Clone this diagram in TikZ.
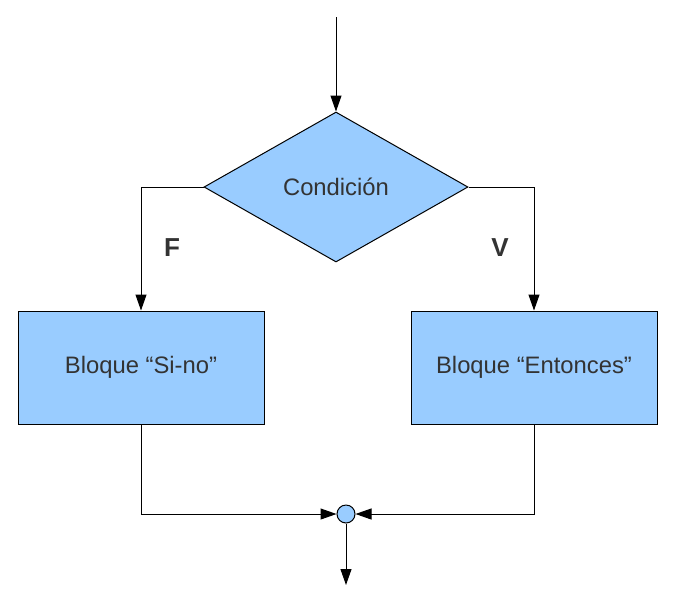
\documentclass[tikz,border=0pt]{standalone}
\usepackage{fontspec}
\setmainfont{Liberation Sans}
\usepackage{tikz}
\usetikzlibrary{shapes.geometric}
\usetikzlibrary{arrows.meta}
\usepackage{xcolor}
\definecolor{cajaazul}{HTML}{99CCFF}
\definecolor{textogris}{HTML}{333333}

\tikzset{
  bloque/.style={draw=black,fill=cajaazul,line width=.5pt,minimum width=123pt,minimum height=56.5pt,inner sep=0pt,text=textogris,font=\fontsize{11.9}{14}\selectfont},
  rombo/.style={diamond,draw=black,fill=cajaazul,line width=.5pt,minimum width=132pt,minimum height=75pt,inner sep=0pt,text=textogris,font=\fontsize{11.9}{14}\selectfont},
  flecha/.style={line width=.5pt,-{Triangle[length=8pt,width=5.5pt]}},
  rama/.style={text=textogris,font=\bfseries\fontsize{13}{15}\selectfont}
}

\begin{document}
\begin{tikzpicture}[x=.5pt,y=-.5pt]
\useasboundingbox (0,0) rectangle (676,602);
\coordinate (inicio) at (336,17);
\node[rombo] (cond) at (336,187) {Condición};
\node[bloque] (sino) at (141,367.5) {Bloque “Si-no”};
\node[bloque] (ent) at (534,367.5) {Bloque “Entonces”};
\node[circle,draw=black,fill=cajaazul,line width=.5pt,minimum size=9pt,inner sep=0pt] (union) at (346,514) {};
\coordinate (fin) at (346,585);
\draw[flecha] (inicio) -- (cond.north);
\draw[flecha] (cond.west) -| (sino.north);
\draw[flecha] (cond.east) -| (ent.north);
\draw[flecha] (sino.south) |- (union.west);
\draw[flecha] (ent.south) |- (union.east);
\draw[flecha] (union.south) -- (fin);
\node[rama] (f) at (172,248) {F};
\node[rama] (v) at (500,248) {V};
\end{tikzpicture}
\end{document}
